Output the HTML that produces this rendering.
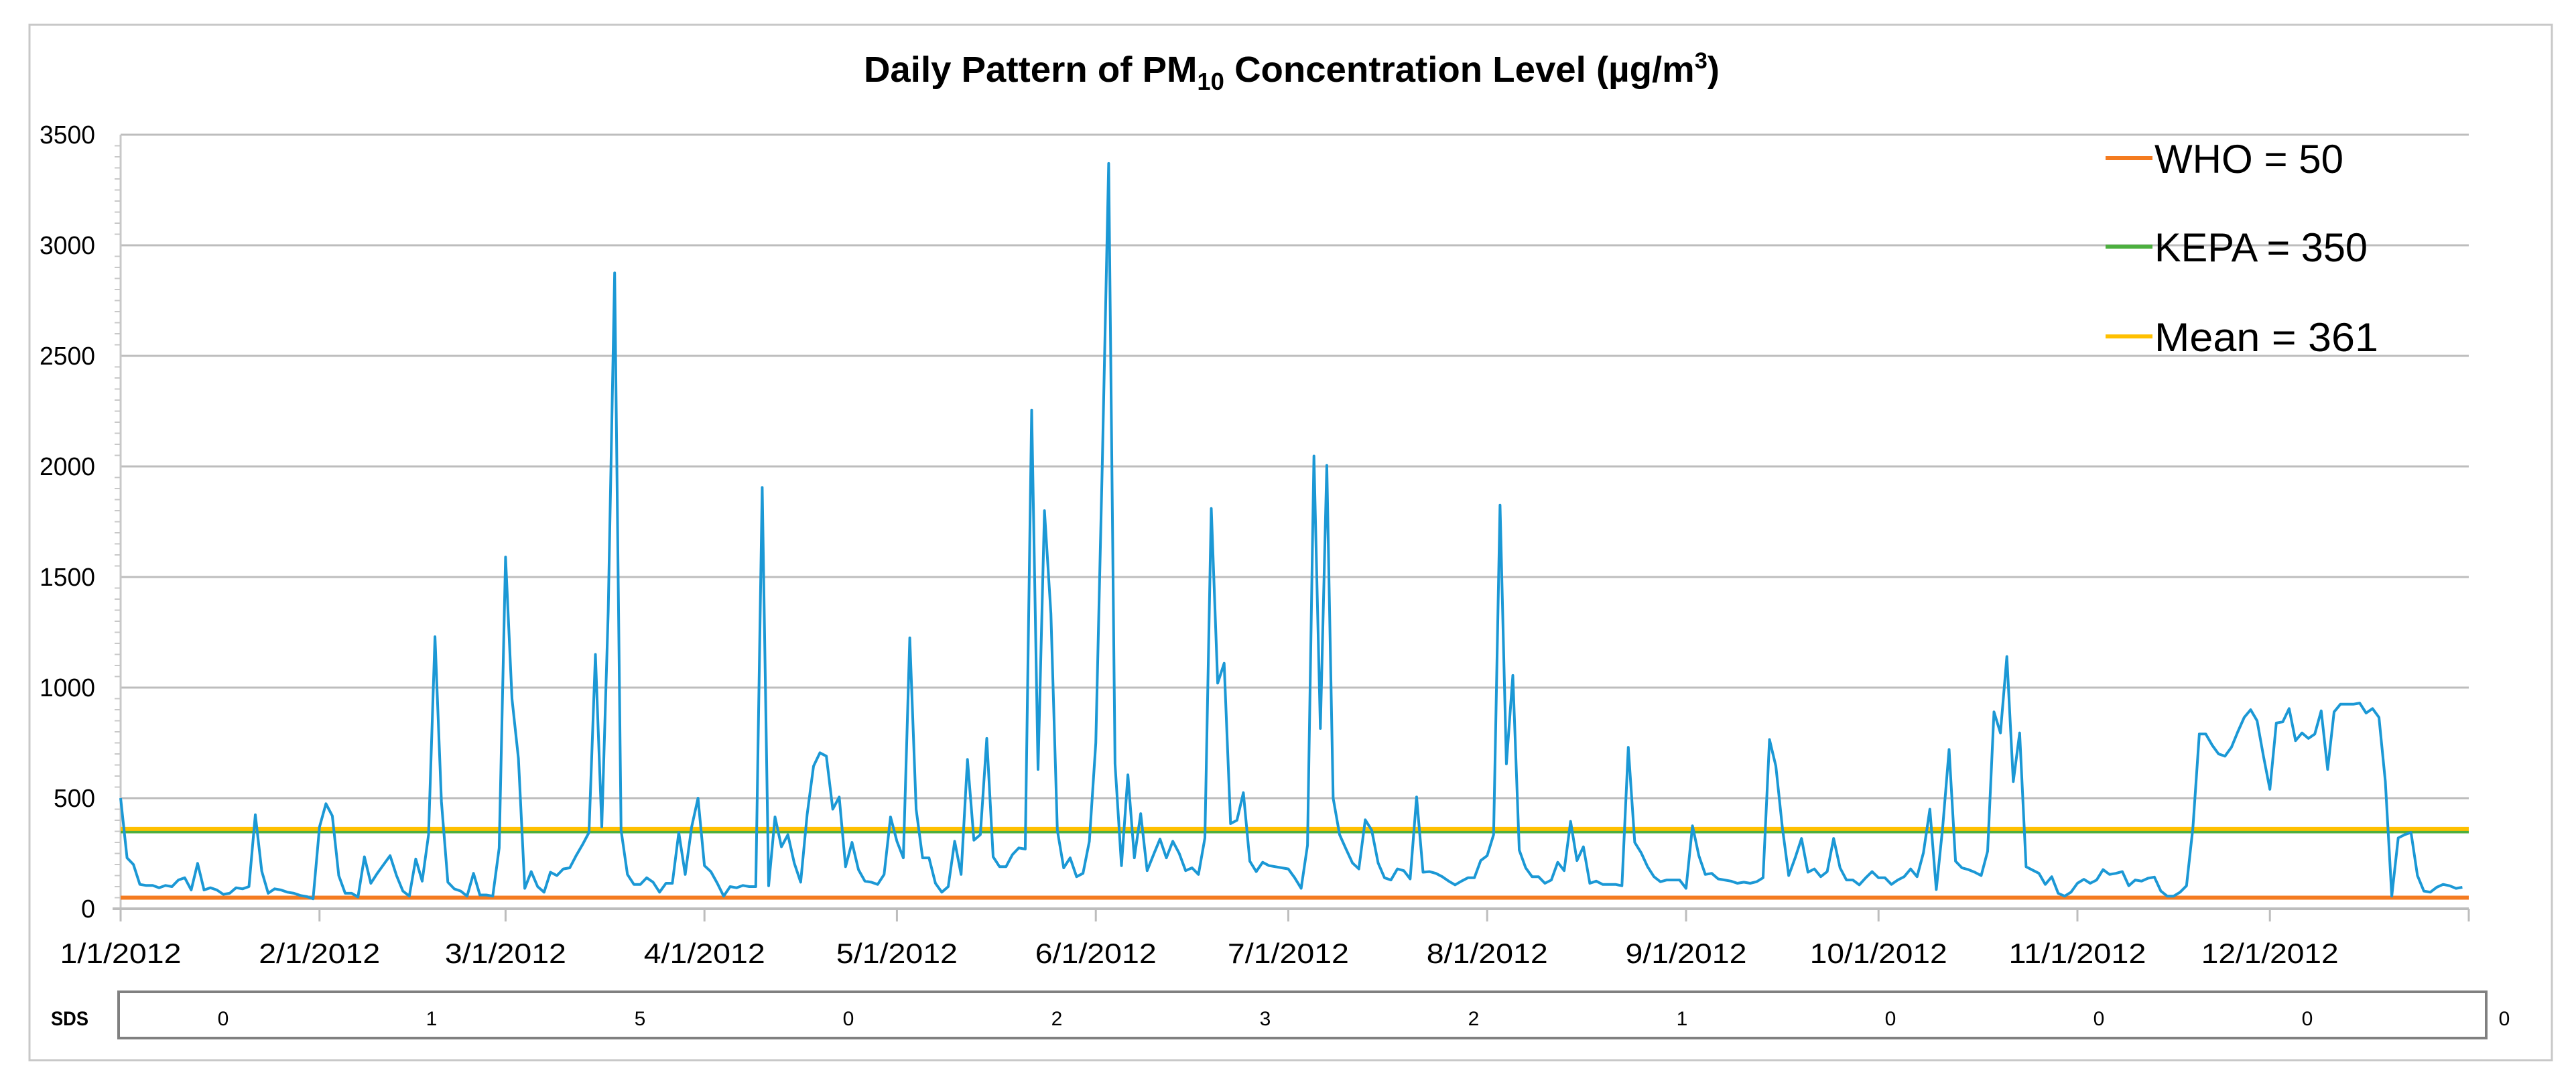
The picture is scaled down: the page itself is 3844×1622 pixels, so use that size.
<!DOCTYPE html>
<html><head><meta charset="utf-8"><style>
html,body{margin:0;padding:0;background:#fff;}
svg{display:block;font-family:"Liberation Sans",sans-serif;}
</style></head><body>
<svg id="chart" width="3844" height="1622" viewBox="0 0 3844 1622" xmlns="http://www.w3.org/2000/svg">
<rect x="44" y="37" width="3764" height="1545" fill="#fff" stroke="#c8c8c8" stroke-width="3"/>
<text x="1289" y="122" font-size="54" font-weight="bold" textLength="1277" lengthAdjust="spacingAndGlyphs">Daily Pattern of PM<tspan font-size="36" dy="12">10</tspan><tspan dy="-12"> Concentration Level (µg/m</tspan><tspan font-size="34" dy="-20">3</tspan><tspan dy="20">)</tspan></text>
<g id="grid"></g>
<g id="axes"></g>
<g id="series"></g>
<g id="legend"></g>
<g id="sds"></g>
</svg>
<script>
const months = ["1/1/2012","2/1/2012","3/1/2012","4/1/2012","5/1/2012","6/1/2012","7/1/2012","8/1/2012","9/1/2012","10/1/2012","11/1/2012","12/1/2012"];
const monthStartDays = [0,31,60,91,121,152,182,213,244,274,305,335];
const yTicks = [0,500,1000,1500,2000,2500,3000,3500];
const jan = [500,230,200,110,105,105,95,105,100,130,140,85,205,85,95,85,65,70,95,90,100,425,170,70,90,85,75,70,60,55,45];
const feb = [370,475,420,150,70,70,53,235,115,160,200,240,150,80,57,225,125,335,1230,485,120,90,80,57,160,62,62,57,275];
const mar = [1590,950,680,92,168,100,75,165,150,180,185,240,290,345,1150,370,1345,2875,355,155,110,110,140,120,75,115,115,345,155,370,500];
const apr = [195,168,115,57,100,95,105,100,100,1905,104,415,280,335,207,120,425,645,705,690,450,505,190,300,177,125,120,110,155,415];
const may = [305,230,1225,450,230,230,115,75,100,305,155,675,310,335,770,235,190,190,245,275,270,2255,630,1800,1335,355,185,230,145,160,305];
const jun = [750,2000,3370,655,195,605,230,430,172,245,315,230,305,250,172,185,155,320,1810,1020,1110,385,400,525,215,168,210,195,190,185];
const jul = [180,140,92,287,2047,815,2005,500,335,270,207,180,402,355,207,140,130,180,172,135,505,165,168,160,145,125,108,125,140,140,218];
const aug = [240,335,1825,655,1055,265,185,145,145,115,130,210,172,395,218,280,115,125,110,110,110,104,730,300,253,190,145,122,130,130,130];
const sep = [92,375,240,155,160,135,130,125,115,120,115,122,140,765,645,370,150,230,318,165,180,145,168,318,185,130,130,108,140,168];
const oct = [140,140,110,130,145,180,145,253,450,87,370,720,215,185,177,165,150,260,890,795,1140,575,795,190,175,160,110,145,70,57,75];
const nov = [115,133,115,130,177,155,160,168,104,130,125,138,143,80,57,57,75,104,365,790,790,740,700,690,730,800,865,900,850,690];
const dec = [540,840,845,905,760,795,770,790,895,630,890,925,925,925,930,885,905,865,575,57,320,335,345,150,80,75,97,110,104,92,97];
const dailyPM10 = [].concat(jan,feb,mar,apr,may,jun,jul,aug,sep,oct,nov,dec);
const whoLimit = 50, kepaLimit = 350, meanValue = 361;
const legendLabels = ["WHO = 50","KEPA = 350","Mean = 361"];
const sdsValues = ["0","1","5","0","2","3","2","1","0","0","0"];
const sdsTrailing = "0";

const NS = "http://www.w3.org/2000/svg";
const X0 = 180, X1 = 3684, Y0 = 1356, Y1 = 201;
const x = d => X0 + d * (X1 - X0) / 366;
const y = v => Y0 - v * (Y0 - Y1) / 3500;
function mk(tag, attrs, parent, text){ const e=document.createElementNS(NS,tag); for(const k in attrs) e.setAttribute(k,attrs[k]); if(text!==undefined) e.textContent=text; parent.appendChild(e); return e; }
const grid=document.getElementById('grid'), axes=document.getElementById('axes'), series=document.getElementById('series'), legend=document.getElementById('legend'), sds=document.getElementById('sds');

yTicks.forEach(t=>{
  if(t>0){ const g=mk('line',{x1:X0,x2:X1,y1:y(t),y2:y(t),stroke:'#bdbdbd','stroke-width':3},grid);
  
   }
  const l=mk('text',{x:142,y:y(t)+13,'font-size':38,'text-anchor':'end',textLength:t>=1000?83:(t>0?62:21),lengthAdjust:'spacingAndGlyphs'},axes,String(t));
  
  
});
for(let v=50; v<3500; v+=50){ if(v%500===0) continue; mk('line',{x1:X0-9,x2:X0,y1:y(v),y2:y(v),stroke:'#c8c8c8','stroke-width':2},axes); }
const ya=mk('line',{x1:X0,x2:X0,y1:Y1,y2:Y0,stroke:'#c8c8c8','stroke-width':3},axes);


const xa=mk('line',{x1:X0-12,x2:X1,y1:Y0,y2:Y0,stroke:'#bdbdbd','stroke-width':4},axes);


monthStartDays.concat([366]).forEach(d=>{ mk('line',{x1:x(d),x2:x(d),y1:Y0,y2:1375,stroke:'#bdbdbd','stroke-width':3},axes); });
months.forEach((m,i)=>{
  const t=mk('text',{x:x(monthStartDays[i]),y:1437,'font-size':42,'text-anchor':'middle',textLength:m.length>8?205:181,lengthAdjust:'spacingAndGlyphs'},axes,m);
  
  
});

function hline(v,color,name){ const l=mk('line',{x1:X0,x2:X1,y1:y(v),y2:y(v),stroke:color,'stroke-width':6},series);   }
hline(whoLimit,'#f47b20','who-line');
hline(kepaLimit,'#4caf3f','kepa-line');
hline(meanValue,'#ffc000','mean-line');
const pts=dailyPM10.map((v,i)=>x(i).toFixed(1)+','+y(v).toFixed(1)).join(' ');
const pl=mk('polyline',{points:pts,fill:'none',stroke:'#1b98d5','stroke-width':4,'stroke-linejoin':'round'},series);



const legColors=['#f47b20','#4caf3f','#ffc000'];
const legY=[236,368,502];
const legW=[282,318,334];
legendLabels.forEach((lab,i)=>{
  const g=mk('g',{},legend);
  
  
  mk('line',{x1:3142,x2:3212,y1:legY[i],y2:legY[i],stroke:legColors[i],'stroke-width':6},g);
  mk('text',{x:3215,y:legY[i]+22,'font-size':60,textLength:legW[i],lengthAdjust:'spacingAndGlyphs'},g,lab);
});

const box=mk('rect',{x:177,y:1480,width:3533,height:69,fill:'#fff',stroke:'#808080','stroke-width':4},sds);


const sl=mk('text',{x:104,y:1530,'font-size':30,'font-weight':'bold','text-anchor':'middle',textLength:56,lengthAdjust:'spacingAndGlyphs'},sds,'SDS');


sdsValues.forEach((v,i)=>{
  const mid=333+i*311;
  const t=mk('text',{x:mid,y:1530,'font-size':30,'text-anchor':'middle'},sds,v);
  
  
});
const tr=mk('text',{x:3737,y:1530,'font-size':30,'text-anchor':'middle'},sds,sdsTrailing);


</script>
</body></html>
